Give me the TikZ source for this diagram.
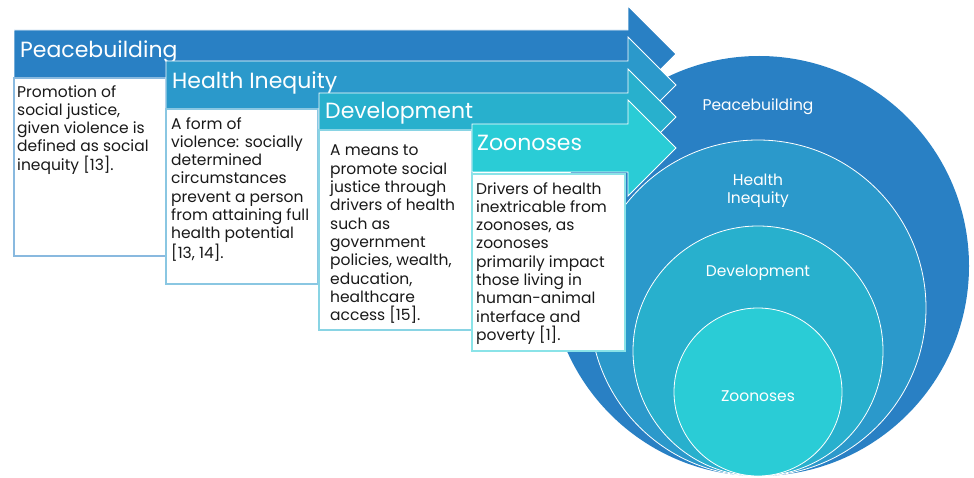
\documentclass[tikz,border=0pt]{standalone}
\usepackage{fontspec}
\setmainfont{Poppins}
\definecolor{cA}{RGB}{41,128,196}
\definecolor{cB}{RGB}{43,153,203}
\definecolor{cC}{RGB}{40,176,205}
\definecolor{cD}{RGB}{42,204,214}
\tikzset{
  band/.style={draw=white, line width=0.8pt},
  ring/.style={draw=white, line width=0.8pt},
  textbox/.style={fill=white, line width=1.2pt},
  headtext/.style={anchor=base west, inner sep=0pt, text=white, font=\fontsize{22}{26}\selectfont},
  boxtext/.style={anchor=north west, inner sep=0pt, align=left, text=black!90, font=\fontsize{15.5}{18.3}\selectfont},
  circtext/.style={inner sep=0pt, align=center, text=white, font=\fontsize{15.5}{18}\selectfont}
}
\begin{document}
\begin{tikzpicture}[x=1pt,y=-1pt]
\useasboundingbox (0,0) rectangle (974,478);
% nested circles
\fill[cA] (759,266) circle (210);
\draw[ring, fill=cB] (758,308) circle (168);
\draw[ring, fill=cC] (758,351) circle (125);
\draw[ring, fill=cD] (758,392) circle (84);
\node[circtext] (cpb) at (758,107) {Peacebuilding};
\node[circtext] (chi) at (758,191) {Health\\Inequity};
\node[circtext] (cdv) at (758,273) {Development};
\node[circtext] (czn) at (758,396) {Zoonoses};
% arrow 1
\path[band, fill=cA] (14,30) -- (628,30) -- (628,6) -- (676,54) -- (628,102) -- (628,78) -- (14,78) -- cycle;
\node[headtext] (h1) at (20,58) {Peacebuilding};
\draw[textbox, draw=cA!55!white] (14,78) rectangle (166,256);
\node[boxtext] (t1) at (17,85) {Promotion of\\social justice,\\given violence is\\defined as social\\inequity [13].};
% arrow 2
\path[band, fill=cB] (166,61) -- (628,61) -- (628,37) -- (676,85) -- (628,133) -- (628,109) -- (166,109) -- cycle;
\node[headtext] (h2) at (172,89) {Health Inequity};
\draw[textbox, draw=cB!55!white] (166,109) rectangle (318,284);
\node[boxtext] (t2) at (171,117) {A form of\\violence: socially\\determined\\circumstances\\prevent a person\\from attaining full\\health potential\\[0pt][13, 14].};
% arrow 3
\path[band, fill=cC] (319,93) -- (628,93) -- (628,69) -- (676,117) -- (628,165) -- (628,141) -- (319,141) -- cycle;
\node[headtext] (h3) at (325,119) {Development};
\draw[textbox, draw=cC!55!white] (319,130) rectangle (472,330);
\node[boxtext] (t3) at (330,145) {A means to\\promote social\\justice through\\drivers of health\\such as\\government\\policies, wealth,\\education,\\healthcare\\access [15].};
% arrow 4
\path[band, fill=cD] (472,124) -- (628,124) -- (628,100) -- (676,148) -- (628,196) -- (628,172) -- (472,172) -- cycle;
\node[headtext] (h4) at (477,151) {Zoonoses};
\draw[textbox, draw=cD!55!white] (472,174) rectangle (625,351);
\node[boxtext] (t4) at (476,182) {Drivers of health\\inextricable from\\zoonoses, as\\zoonoses\\primarily impact\\those living in\\human-animal\\interface and\\poverty [1].};
\end{tikzpicture}
\end{document}
